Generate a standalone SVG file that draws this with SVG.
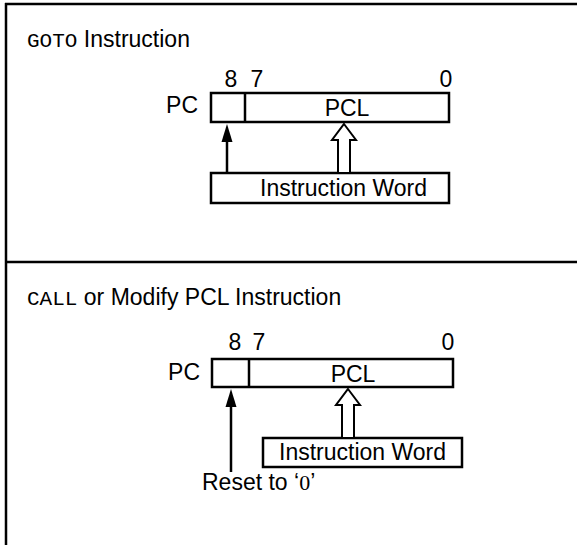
<svg xmlns="http://www.w3.org/2000/svg" width="577" height="545" viewBox="0 0 577 545">
<style>
.b{fill:#fff;stroke:#000;stroke-width:2.5}
.t{font-family:"Liberation Sans",Arial,sans-serif;font-size:23px;fill:#000}
.m{font-family:"Liberation Mono","Courier New",monospace;font-size:21px;fill:#000}
.z{font-family:"Liberation Serif","Times New Roman",serif;font-size:22px;fill:#000}
.ln{stroke:#000;stroke-width:2.5;fill:none}
.ah{fill:#000;stroke:none}
.ha{fill:#fff;stroke:#000;stroke-width:2}
</style>
<g id="frame">
<line class="ln" x1="5" y1="4" x2="577" y2="4"/>
<line class="ln" x1="6" y1="3" x2="6" y2="545"/>
<line class="ln" x1="6" y1="262" x2="577" y2="262"/>
</g>
<g id="title1"><text x="27" y="47"><tspan class="m">GOTO</tspan><tspan class="t"> Instruction</tspan></text></g>
<g id="pc1">
<text class="t" x="198" y="113" text-anchor="end">PC</text>
<text class="t" x="231" y="87" text-anchor="middle">8</text>
<text class="t" x="257" y="87" text-anchor="middle">7</text>
<text class="t" x="446" y="87" text-anchor="middle">0</text>
<rect class="b" x="211" y="93" width="238" height="29"/>
<line class="ln" x1="245" y1="93" x2="245" y2="122"/>
<text class="t" x="347" y="116" text-anchor="middle">PCL</text>
</g>
<g id="iw1">
<rect class="b" x="211" y="173" width="238" height="30"/>
<text class="t" x="260" y="196">Instruction Word</text>
</g>
<g id="title2"><text x="27" y="305"><tspan class="m">CALL</tspan><tspan class="t"> or Modify PCL Instruction</tspan></text></g>
<g id="pc2">
<text class="t" x="200" y="380" text-anchor="end">PC</text>
<text class="t" x="235" y="350" text-anchor="middle">8</text>
<text class="t" x="259" y="350" text-anchor="middle">7</text>
<text class="t" x="448" y="350" text-anchor="middle">0</text>
<rect class="b" x="212" y="359" width="241" height="28"/>
<line class="ln" x1="249" y1="359" x2="249" y2="387"/>
<text class="t" x="353" y="382" text-anchor="middle">PCL</text>
</g>
<g id="iw2">
<rect class="b" x="263" y="438" width="199" height="29"/>
<text class="t" x="279" y="460">Instruction Word</text>
</g>
<g id="reset"><text x="202" y="490"><tspan class="t">Reset to ‘</tspan><tspan class="z">0</tspan><tspan class="t">’</tspan></text></g>
<g id="connectors">
<line class="ln" x1="227" y1="173" x2="227" y2="140"/>
<polygon class="ah" points="227,124 232.5,142 221.5,142"/>
<polygon class="ha" points="344,124 356,140 350,140 350,173 338,173 338,140 332,140"/>
<line class="ln" x1="231" y1="472" x2="231" y2="405"/>
<polygon class="ah" points="231,389 236.5,407 225.5,407"/>
<polygon class="ha" points="348,389 360,405 354,405 354,438 342,438 342,405 336,405"/>
</g>
</svg>
